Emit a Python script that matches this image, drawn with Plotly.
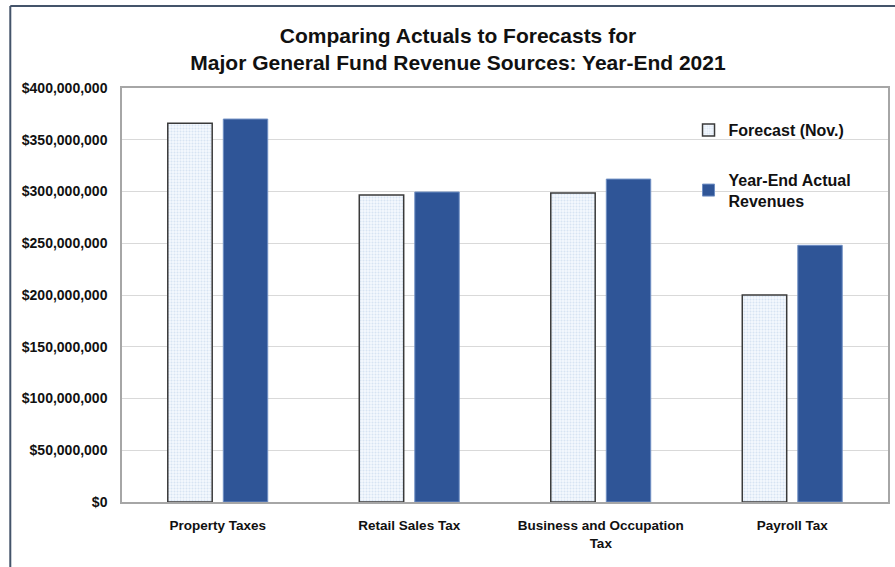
import plotly.graph_objects as go

# Revenue sources and year-end 2021 values (dollars)
categories = ["Property Taxes", "Retail Sales Tax", "Business and Occupation<br>Tax", "Payroll Tax"]
forecast_nov = [366_000_000, 296_500_000, 298_500_000, 200_000_000]
year_end_actual = [370_000_000, 299_500_000, 312_000_000, 248_000_000]
tick_values = [0, 50_000_000, 100_000_000, 150_000_000, 200_000_000,
               250_000_000, 300_000_000, 350_000_000, 400_000_000]
tick_labels = ["$0", "$50,000,000", "$100,000,000", "$150,000,000", "$200,000,000",
               "$250,000,000", "$300,000,000", "$350,000,000", "$400,000,000"]

W, H = 895, 567
ML, MR, MT, MB = 122, 5, 88, 65
FONT = "Liberation Sans, Arial, sans-serif"

fig = go.Figure()
fig.add_trace(go.Bar(
    x=categories, y=forecast_nov, name="<b>Forecast (Nov.)</b>",
    legendgroup="f",
    marker=dict(
        color="#ffffff",
        line=dict(color="#3a3a3a", width=1.5),
        pattern=dict(shape=".", fgcolor="#b9d0ea", bgcolor="#f4f8fd",
                     size=3, solidity=0.35, fillmode="overlay"),
    ),
))
fig.add_trace(go.Bar(
    x=categories, y=year_end_actual, name="<b>Year-End Actual<br>Revenues</b>",
    legendgroup="a",
    marker=dict(color="#2f5597", line=dict(color="#6f8fc4", width=1)),
))

# Convert pixel positions into paper coordinates for the chart frame
pw = W - ML - MR
ph = H - MT - MB
def px(x):
    return (x - ML) / pw
def py(y):
    return (H - MB - y) / ph

fig.add_shape(type="line", xref="paper", yref="paper",
              x0=px(10), x1=px(10), y0=py(6), y1=py(570),
              line=dict(color="#44546a", width=2))
fig.add_shape(type="line", xref="paper", yref="paper",
              x0=px(10), x1=px(900), y0=py(6), y1=py(6),
              line=dict(color="#44546a", width=2))

fig.update_layout(
    width=W, height=H,
    margin=dict(l=ML, r=MR, t=MT, b=MB),
    paper_bgcolor="white", plot_bgcolor="white",
    barmode="group", bargap=0.42, bargroupgap=0.2,
    font=dict(family=FONT, color="#1a1a1a"),
    title=dict(
        text="<b>Comparing Actuals to Forecasts for<br>Major General Fund Revenue Sources: Year-End 2021</b>",
        x=458 / W, xanchor="center", y=1 - 43 / H, yanchor="middle",
        font=dict(size=21, family=FONT, color="#111111"),
    ),
    xaxis=dict(
        showline=True, linecolor="#a6a6a6", linewidth=1.5, mirror=True,
        ticks="", tickfont=dict(size=13.5, family=FONT, color="#111111"),
        tickprefix="<b>", ticksuffix="</b>", ticklabelstandoff=10,
    ),
    yaxis=dict(
        range=[0, 400_000_000], tickvals=tick_values,
        ticktext=["<b>" + t + "</b>" for t in tick_labels],
        showgrid=True, gridcolor="#d9d9d9", gridwidth=1,
        showline=True, linecolor="#a6a6a6", linewidth=1.5, mirror=True,
        ticks="", ticklen=0, tickfont=dict(size=14, family=FONT, color="#111111"),
        ticklabelstandoff=10, zeroline=False,
    ),
    legend=dict(
        x=px(690), y=py(113), xanchor="left", yanchor="top",
        bgcolor="rgba(0,0,0,0)", tracegroupgap=26,
        font=dict(size=16, family=FONT, color="#111111"),
        itemwidth=30,
    ),
)

fig.write_html("out.html")
